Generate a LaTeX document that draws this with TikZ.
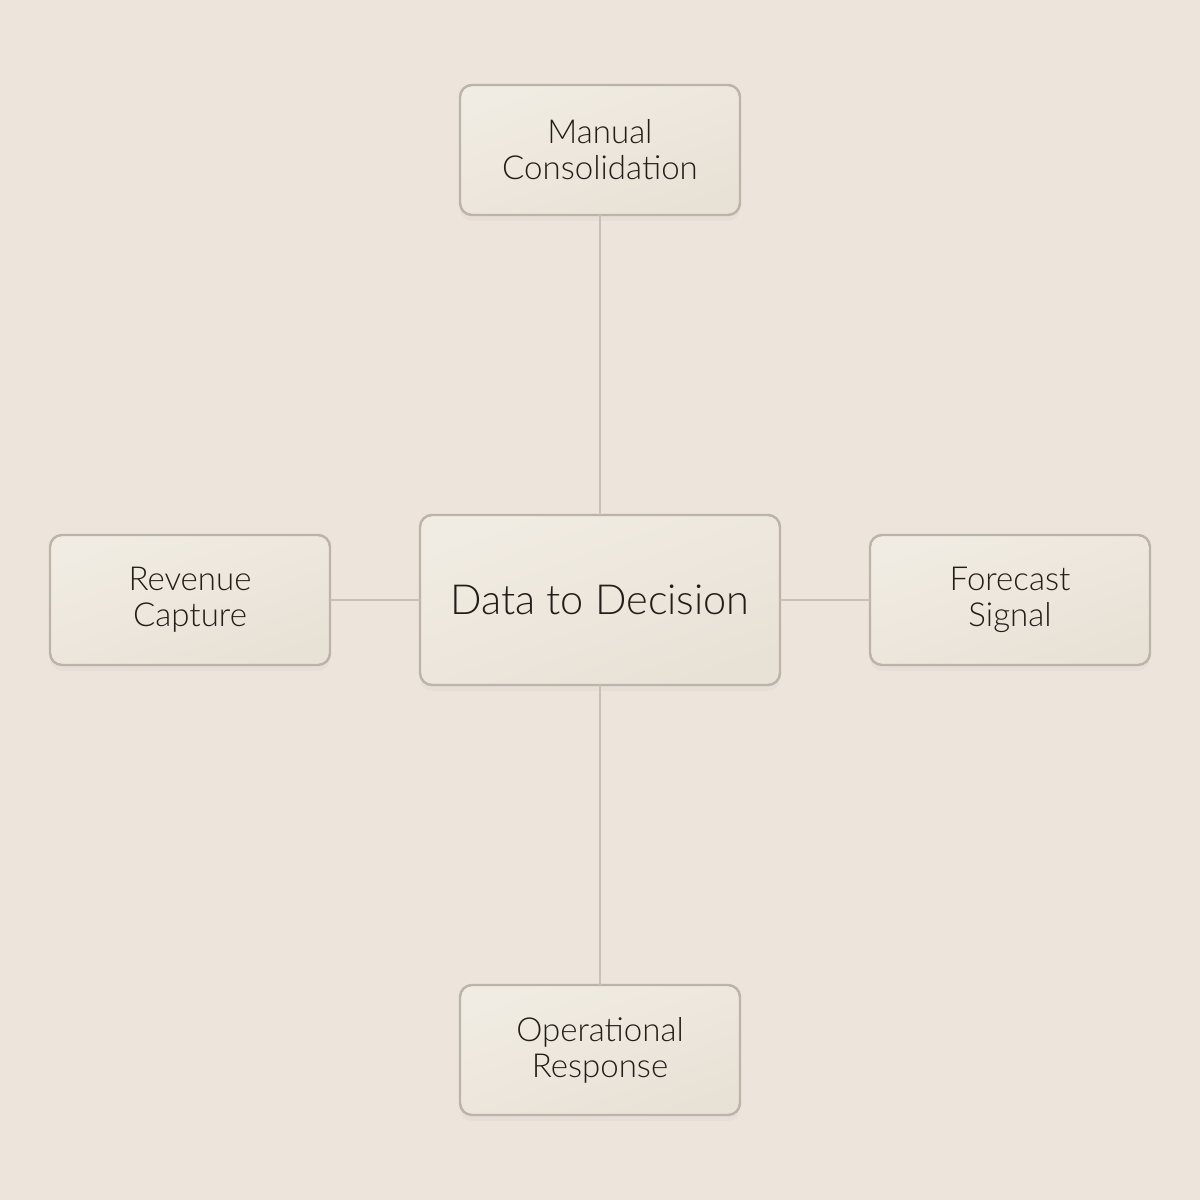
\documentclass[tikz,border=0pt]{standalone}
\usepackage{fontspec}
\setmainfont{Lato Light}
\usetikzlibrary{positioning,shadows}

\definecolor{paper}{HTML}{EDE5DC}
\definecolor{boxtop}{HTML}{F1ECE3}
\definecolor{boxbot}{HTML}{E8E1D6}
\definecolor{edge}{HTML}{BDB4A9}
\definecolor{wire}{HTML}{C9C1B7}
\definecolor{ink}{HTML}{221D19}

\begin{document}
\begin{tikzpicture}[
card/.style={
  draw=edge,
  line width=0.7pt,
  rounded corners=0.12cm,
  top color=boxtop,
  bottom color=boxbot,
  shading angle=20,
  drop shadow={opacity=0.05, shadow xshift=0cm, shadow yshift=-0.06cm},
  text=ink,
  align=center,
  inner sep=0pt,
  outer sep=0pt
  },
leaf/.style={
  card,
  minimum width=2.8cm,
  minimum height=1.3cm,
  font=\fontsize{9.4pt}{10.3pt}\selectfont
  },
hub/.style={
  card,
  minimum width=3.6cm,
  minimum height=1.7cm,
  font=\fontsize{11.8pt}{14pt}\selectfont
  },
link/.style={
  draw=wire,
  line width=0.6pt
  }
]
\useasboundingbox[fill=paper] (0,0) rectangle (12,12);

\node[hub] (dec) at (6,6) {Data to Decision};

% the four around it
\node[leaf, above=3cm of dec] (manual) {Manual\\Consolidation};
\node[leaf, left=0.9cm of dec] (revenue) {Revenue\\Capture};
\node[leaf, right=0.9cm of dec] (forecast) {Forecast\\Signal};
\node[leaf, below=3cm of dec] (ops) {Operational\\Response};

\foreach \n in {manual,revenue,forecast,ops}
  \draw[link] (dec) -- (\n);
\end{tikzpicture}
\end{document}
